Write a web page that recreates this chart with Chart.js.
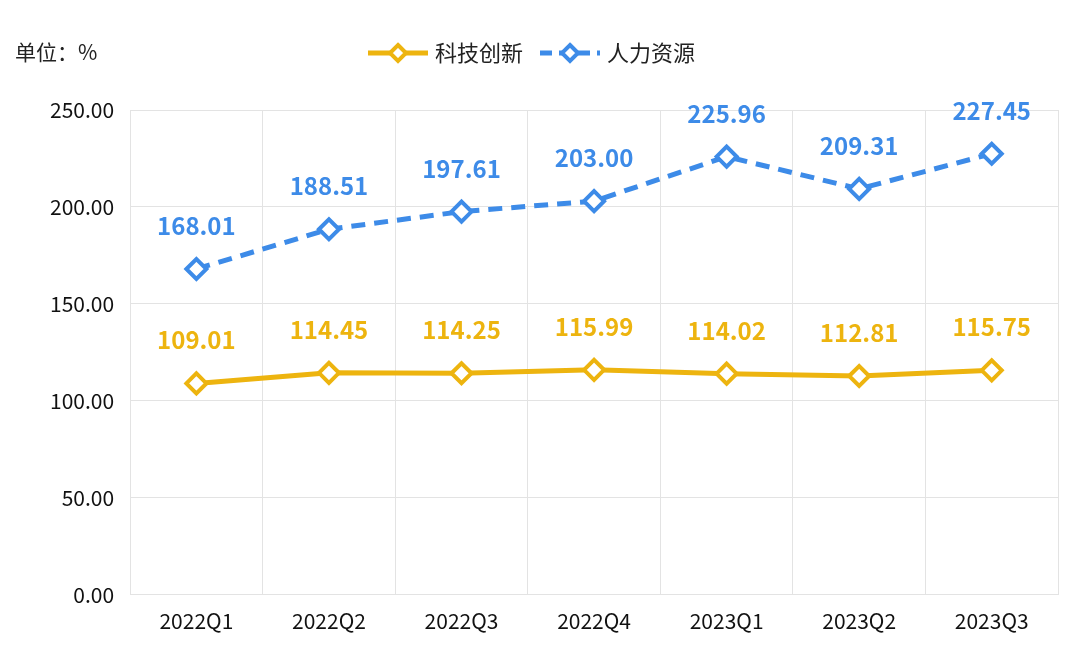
<!DOCTYPE html>
<html><head><meta charset="utf-8">
<script src="https://cdn.jsdelivr.net/npm/chart.js@4/dist/chart.umd.min.js"></script>
<style>html,body{margin:0;padding:0;background:#fff}#w{width:1080px;height:652px;position:relative}</style>
</head><body><div id="w"><canvas id="c"></canvas></div>
<script>
const categories = ['2022Q1','2022Q2','2022Q3','2022Q4','2023Q1','2023Q2','2023Q3'];
const techValues = [109.01,114.45,114.25,115.99,114.02,112.81,115.75];
const hrValues = [168.01,188.51,197.61,203.00,225.96,209.31,227.45];
const seriesNames = ['科技创新','人力资源'];
const FONT = '"Noto Sans CJK SC","Noto Sans",sans-serif';
const ORANGE = '#EDB40F', BLUE = '#3D8BE8';

const labelPlugin = {
  id:'lbl',
  afterDatasetsDraw(chart){
    const ctx = chart.ctx;
    ctx.save();
    ctx.font = 'bold 24px ' + FONT;
    ctx.textAlign = 'center';
    ctx.textBaseline = 'alphabetic';
    chart.data.datasets.forEach((ds,i)=>{
      const meta = chart.getDatasetMeta(i);
      ctx.fillStyle = ds.borderColor;
      meta.data.forEach((pt,j)=>{
        ctx.fillText(ds.data[j].toFixed(2), pt.x, pt.y - 34);
      });
    });
    ctx.fillStyle = '#222';
    ctx.font = '21px ' + FONT;
    ctx.textAlign = 'left';
    ctx.textBaseline = 'middle';
    ctx.fillText('单位：%', 15, 52);
    const items = [[ORANGE,[],seriesNames[0],368],[BLUE,[12,7],seriesNames[1],540]];
    items.forEach(([col,dash,name,x0])=>{
      const y = 53;
      ctx.strokeStyle = col; ctx.lineWidth = 5; ctx.setLineDash(dash);
      ctx.beginPath(); ctx.moveTo(x0,y); ctx.lineTo(x0+60,y); ctx.stroke();
      ctx.setLineDash([]);
      ctx.fillStyle='#fff'; ctx.lineWidth=4;
      ctx.beginPath(); const cx=x0+30,r=8;
      ctx.moveTo(cx,y-r);ctx.lineTo(cx+r,y);ctx.lineTo(cx,y+r);ctx.lineTo(cx-r,y);ctx.closePath();
      ctx.fill(); ctx.stroke();
      ctx.fillStyle='#222'; ctx.font='22px '+FONT; ctx.textAlign='left';
      ctx.fillText(name, x0+67, y);
    });
    ctx.restore();
  }
};

new Chart(document.getElementById('c'),{
  type:'line',
  data:{labels:categories,datasets:[
    {label:seriesNames[0],data:techValues,borderColor:ORANGE,backgroundColor:'#fff',borderWidth:5,
     pointStyle:'rectRot',pointRadius:10,pointBorderWidth:4,pointBackgroundColor:'#fff',pointBorderColor:ORANGE},
    {label:seriesNames[1],data:hrValues,borderColor:BLUE,backgroundColor:'#fff',borderWidth:5,borderDash:[14,9],
     pointStyle:'rectRot',pointRadius:10,pointBorderWidth:4,pointBackgroundColor:'#fff',pointBorderColor:BLUE}
  ]},
  options:{
    responsive:true,maintainAspectRatio:false,animation:false,
    layout:{padding:{top:110,left:34,right:22,bottom:4}},
    plugins:{legend:{display:false},tooltip:{enabled:false}},
    scales:{
      x:{offset:true,grid:{offset:true,color:'#e3e3e3',drawTicks:false},border:{display:false},
         ticks:{color:'#111',font:{size:21,family:FONT},padding:14}},
      y:{min:0,max:250,grid:{color:'#e3e3e3',drawTicks:false},border:{display:false},
         ticks:{stepSize:50,color:'#111',font:{size:21,family:FONT},padding:16,callback:v=>v.toFixed(2)}}
    }
  },
  plugins:[labelPlugin]
});
</script></body></html>
